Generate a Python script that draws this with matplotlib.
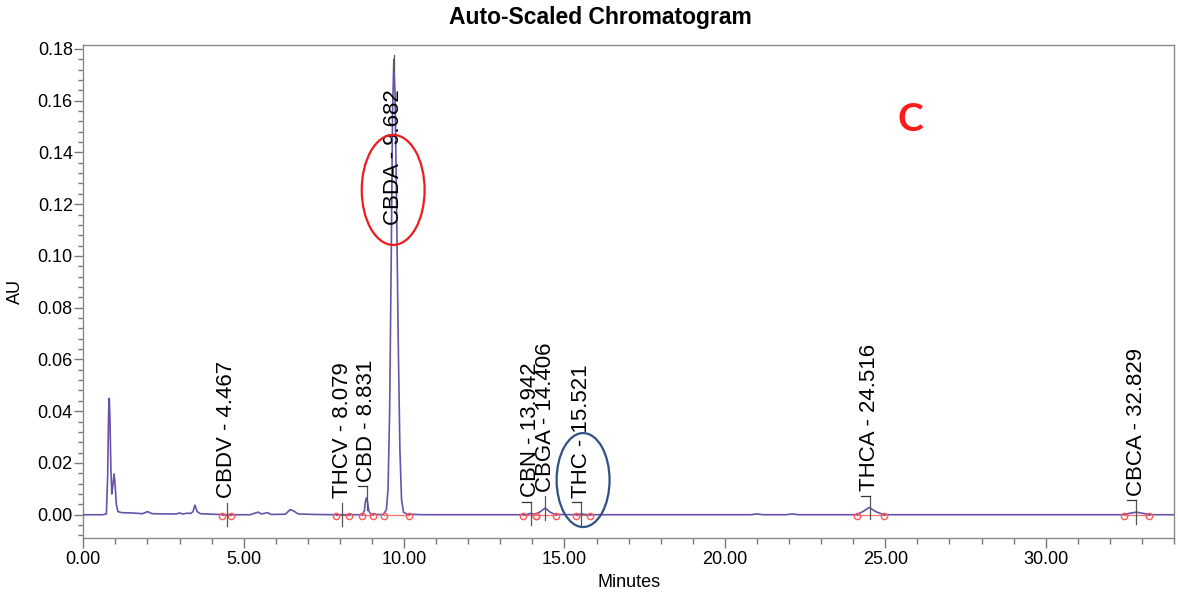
import matplotlib
matplotlib.use("Agg")
import matplotlib.pyplot as plt
from matplotlib.patches import Ellipse
from matplotlib.ticker import MultipleLocator, FormatStrFormatter

plt.rcParams['font.family'] = ['Liberation Sans', 'DejaVu Sans']

# ---- trace (minutes, AU) ----
time_min = [0.00, 0.60, 0.72, 0.76, 0.79, 0.81, 0.83, 0.86, 0.89, 0.92, 0.96, 0.99,
            1.03, 1.08, 1.20, 1.50, 1.85, 2.00, 2.15, 2.60, 2.90, 3.00, 3.10, 3.25,
            3.35, 3.42, 3.48, 3.55, 3.65, 4.00, 4.50, 5.20, 5.45, 5.55, 5.75, 5.85,
            6.30, 6.45, 6.55, 6.70, 7.20, 8.00, 8.70, 8.76, 8.80, 8.83, 8.86, 8.90,
            8.96, 9.35, 9.45, 9.50, 9.55, 9.60, 9.64, 9.68, 9.72, 9.77, 9.82, 9.87,
            9.92, 9.98, 10.10, 10.60, 13.80, 13.94, 14.10, 14.25, 14.40, 14.55, 14.70,
            15.40, 15.52, 15.70, 20.80, 21.00, 21.20, 21.90, 22.10, 22.30, 24.10,
            24.30, 24.50, 24.70, 24.95, 32.40, 32.60, 32.83, 33.05, 33.25, 34.00]
absorbance = [0.0000, 0.0000, 0.0003, 0.0150, 0.0400, 0.0450, 0.0380, 0.0180, 0.0080,
              0.0110, 0.0158, 0.0120, 0.0040, 0.0012, 0.0008, 0.0007, 0.0004, 0.0012,
              0.0004, 0.0003, 0.0003, 0.0007, 0.0003, 0.0006, 0.0005, 0.0012, 0.0037,
              0.0012, 0.0004, 0.0002, 0.0000, 0.0000, 0.0010, 0.0003, 0.0008, 0.0001,
              0.0002, 0.0020, 0.0015, 0.0003, 0.0001, 0.0000, 0.0000, 0.0015, 0.0055,
              0.0065, 0.0050, 0.0015, 0.0002, 0.0000, 0.0020, 0.0100, 0.0400, 0.1000,
              0.1550, 0.1760, 0.1620, 0.1150, 0.0650, 0.0250, 0.0060, 0.0010, 0.0002,
              0.0000, 0.0000, 0.0005, 0.0002, 0.0012, 0.0026, 0.0010, 0.0001, 0.0000,
              0.0003, 0.0000, 0.0000, 0.0003, 0.0000, 0.0000, 0.0003, 0.0000, 0.0000,
              0.0012, 0.0028, 0.0012, 0.0000, 0.0000, 0.0005, 0.0010, 0.0005, 0.0000,
              0.0000]

# ---- labelled peaks ----
peak_names = ["CBDV", "THCV", "CBD", "CBDA", "CBN", "CBGA", "THC", "THCA", "CBCA"]
peak_rt = [4.467, 8.079, 8.831, 9.682, 13.942, 14.406, 15.521, 24.516, 32.829]
peak_apex = [0.0000, 0.0002, 0.0065, 0.1760, 0.0005, 0.0026, 0.0003, 0.0028, 0.0010]

# ---- integration start/stop marks (minutes) ----
integ_start = [4.33, 7.89, 8.69, 9.38, 13.71, 14.12, 15.37, 24.11, 32.45]
integ_end = [4.60, 8.28, 9.02, 10.15, 14.12, 14.73, 15.79, 24.95, 33.21]

fig = plt.figure(figsize=(11.78, 5.99), dpi=100)
ax = fig.add_axes([0.0707, 0.1018, 0.9259, 0.8231])

trace_color = "#6a52a8"
ax.plot(time_min, absorbance, color=trace_color, lw=1.2, solid_joinstyle='round', zorder=3)

# integration baselines and markers
for s, e in zip(integ_start, integ_end):
    ax.plot([s, e], [0, 0], color="#ff6f6f", lw=0.9, zorder=2)
ax.plot(integ_start + integ_end, [-0.0006] * (len(integ_start) + len(integ_end)),
        linestyle='none', marker='o', ms=4.5, mfc='none', mec="#ff5a5a", mew=1.0, zorder=4)

# peak labels
dash_peaks = {"CBD", "CBN", "THC", "THCA", "CBCA"}
for name, rt, h in zip(peak_names, peak_rt, peak_apex):
    lo, hi = h - 0.0045, min(h + 0.0045, 0.1775)
    ax.plot([rt, rt], [lo, hi], color="#555555", lw=0.9, zorder=5)
    if name in dash_peaks:
        ax.plot([rt - 0.28, rt], [hi, hi], color="#333333", lw=0.9, zorder=5)
    ybot = min(hi + 0.0018, 0.112)
    ax.text(rt, ybot, f"{name} - {rt:.3f}", rotation=90, ha='center', va='bottom',
            fontsize=16, color='black', zorder=6)

# highlight ellipses
ax.add_patch(Ellipse((9.66, 0.1255), 1.96, 0.0425, fill=False, ec="#ee1c1c", lw=1.6, zorder=7))
ax.add_patch(Ellipse((15.58, 0.0134), 1.65, 0.0363, fill=False, ec="#2f5281", lw=1.6, zorder=7))

ax.text(0.758, 0.848, "C", transform=ax.transAxes, ha='center', va='center',
        fontsize=28, fontweight='bold', color="#ff1a1a", family=['Lato', 'DejaVu Sans'])

ax.set_xlim(0, 34)
ax.set_ylim(-0.009, 0.1815)
ax.xaxis.set_major_locator(MultipleLocator(5))
ax.xaxis.set_minor_locator(MultipleLocator(1))
ax.yaxis.set_major_locator(MultipleLocator(0.02))
ax.yaxis.set_minor_locator(MultipleLocator(0.004))
ax.xaxis.set_major_formatter(FormatStrFormatter('%.2f'))
ax.yaxis.set_major_formatter(FormatStrFormatter('%.2f'))

for sp in ax.spines.values():
    sp.set_color("#8a8a8a")
    sp.set_linewidth(1.0)
ax.tick_params(axis='x', which='major', length=7.5, width=1.0, color="#777777",
               labelsize=13, pad=2)
ax.tick_params(axis='x', which='minor', length=4.5, width=1.0, color="#777777")
ax.tick_params(axis='y', which='major', length=6.5, width=1.0, color="#777777",
               labelsize=13, pad=1)
ax.tick_params(axis='y', which='minor', length=3.6, width=1.0, color="#777777")

ax.set_xlabel("Minutes", fontsize=13, labelpad=4)
ax.set_ylabel("AU", fontsize=13, labelpad=10)

fig.text(0.510, 0.970, "Auto-Scaled Chromatogram", ha='center', va='center',
         fontsize=16.5, fontweight='bold')

fig.savefig("out.png", dpi=100)
